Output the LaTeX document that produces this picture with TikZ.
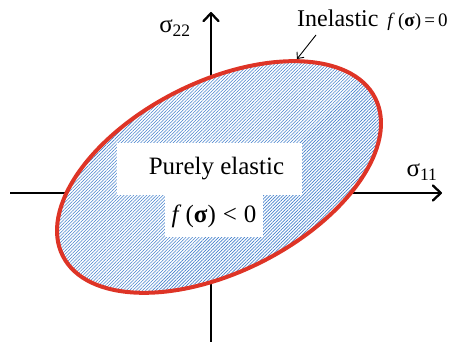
\documentclass[tikz,border=0pt]{standalone}
\usepackage{fontspec}
\setmainfont{Liberation Serif}
\usetikzlibrary{positioning,arrows.meta,shapes.geometric,patterns.meta}
\definecolor{RimRed}{RGB}{222,52,38}
\definecolor{HatchBlue}{RGB}{70,130,205}
\newcommand{\sig}[1]{σ\textsubscript{#1}}
\newcommand{\fsig}{\textit{f}\,(\textbf{σ})}

\begin{document}
\begin{tikzpicture}[x=1pt,y=1pt,
  axis/.style={line width=2.3pt,-{Straight Barb[length=8pt,width=15pt,round]}},
  note/.style={line width=0.9pt,-{Straight Barb[length=5pt,width=9pt]}},
  label/.style={font=\fontsize{25}{29}\selectfont,inner sep=0pt},
  box/.style={fill=white,inner sep=0pt,font=\fontsize{25}{29}\selectfont}]
  \useasboundingbox (0,0) rectangle (467,342);
  % axes
  \coordinate (xlo) at (10,149);
  \coordinate (xhi) at (442,149);
  \coordinate (ylo) at (211,0);
  \coordinate (yhi) at (211,330);
  \draw[axis] (xlo) -- (xhi);
  \draw[axis] (ylo) -- (yhi);
  % yield surface
  \node[ellipse,rotate=26.8,minimum width=350pt,minimum height=190pt,inner sep=0pt,
    preaction={fill=white},pattern={Lines[angle=45,distance=2.3pt,line width=0.6pt]},
    pattern color=HatchBlue,draw=RimRed,line width=4pt] (surf) at (219,165) {};
  \node[box,minimum width=185pt,minimum height=52pt] (pe) at (209.5,173) {\hspace*{14pt}Purely elastic};
  \node[box,minimum width=98pt,minimum height=42pt] (neg) at (214,126) {\fsig\;<\;0};
  % labels
  \node[label] (s22) at (175,314) {\sig{22}};
  \node[label] (s11) at (422,170) {\sig{11}};
  \node[label,anchor=base west,font=\fontsize{24}{28}\selectfont] (inel) at (297,315)
    {Inelastic\hspace{9pt}{\fontsize{19}{22}\selectfont\fsig\,=\,0}};
  \coordinate (tail) at (316,307);
  \coordinate (tip) at (297,283);
  \draw[note] (tail) -- (tip);
\end{tikzpicture}
\end{document}
